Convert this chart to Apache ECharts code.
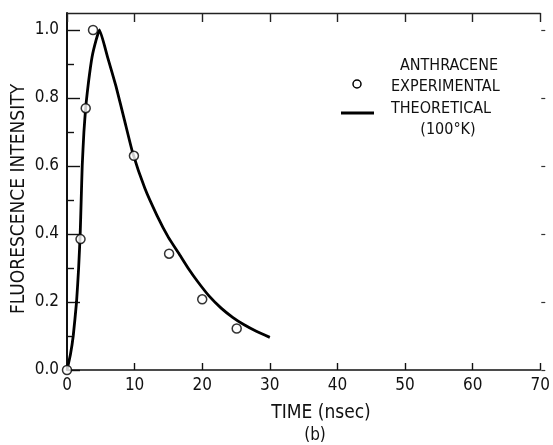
<!DOCTYPE html>
<html><head><meta charset="utf-8">
<script src="https://cdn.jsdelivr.net/npm/echarts@6/dist/echarts.min.js"></script>
<style>html,body{margin:0;padding:0;background:#fff}#c{width:553px;height:445px}</style>
</head><body><div id="c"></div>
<script>
// Experimental points (time ns, intensity)
const expTime = [0, 2.0, 2.77, 3.85, 9.9, 15.1, 20.0, 25.1];
const expIntensity = [0, 0.385, 0.77, 1.0, 0.63, 0.342, 0.208, 0.122];
// Theoretical curve (100 K)
const theoTime = [0, 0.5, 0.92, 1.41, 1.72, 1.95, 2.1, 2.25, 2.5, 2.8, 3.2, 3.7, 4.3, 4.8, 6.0, 7.24, 8.5, 9.7, 11.5, 13.3, 15.0, 16.5, 18.0, 19.4, 21.0, 22.8, 24.5, 26.2, 28.0, 30.0];
const theoIntensity = [0, 0.045, 0.1, 0.2, 0.3, 0.4, 0.5, 0.6, 0.7, 0.78, 0.85, 0.92, 0.97, 1.0, 0.92, 0.835, 0.735, 0.64, 0.535, 0.455, 0.39, 0.344, 0.297, 0.258, 0.218, 0.182, 0.155, 0.133, 0.114, 0.096];
const yMajor = [0, 0.2, 0.4, 0.6, 0.8, 1.0];
const yMinor = [0.1, 0.3, 0.5, 0.7, 0.9];

const FONT = "'Liberation Sans Narrow','DejaVu Sans Condensed','DejaVu Sans',sans-serif";
const chart = echarts.init(document.getElementById('c'), null, {renderer: 'canvas'});
const zip = (a, b) => a.map((v, i) => [v, b[i]]);
chart.setOption({
  animation: false,
  backgroundColor: '#fff',
  grid: {left: 67, right: 6, top: 13, bottom: 75},
  xAxis: [
    {type: 'value', min: 0, max: 70, interval: 10, position: 'bottom',
     axisLine: {onZero: false, lineStyle: {color: '#111', width: 1.6}},
     axisTick: {inside: true, length: 7, lineStyle: {color: '#111', width: 1.4}},
     axisLabel: {color: '#111', fontFamily: FONT, fontSize: 17, margin: 7},
     splitLine: {show: false}},
    {type: 'value', min: 0, max: 70, interval: 10, position: 'top',
     axisLine: {onZero: false, lineStyle: {color: '#222', width: 1.4}},
     axisTick: {inside: true, length: 9, lineStyle: {color: '#222', width: 1.4}},
     axisLabel: {show: false}, splitLine: {show: false}}
  ],
  yAxis: [
    {type: 'value', min: 0, max: 1.05, position: 'left',
     axisLine: {onZero: false, lineStyle: {color: '#111', width: 2}},
     axisTick: {inside: true, length: 13, customValues: yMajor, lineStyle: {color: '#111', width: 1.4}},
     axisLabel: {color: '#111', fontFamily: FONT, fontSize: 17, margin: 8, customValues: yMajor,
                 formatter: v => v.toFixed(1)},
     splitLine: {show: false}},
    {type: 'value', min: 0, max: 1.05, position: 'left',
     axisLine: {show: false, onZero: false},
     axisTick: {inside: true, length: 7, customValues: yMinor, lineStyle: {color: '#111', width: 1.4}},
     axisLabel: {show: false}, splitLine: {show: false}},
    {type: 'value', min: 0, max: 1.05, position: 'right', offset: 5,
     axisLine: {show: false, onZero: false},
     axisTick: {inside: true, length: 4, customValues: yMajor, lineStyle: {color: '#333', width: 1.2}},
     axisLabel: {show: false}, splitLine: {show: false}}
  ],
  series: [
    {name: 'THEORETICAL', type: 'line', data: zip(theoTime, theoIntensity), smooth: 0.15,
     showSymbol: false, symbol: 'none', lineStyle: {color: '#000', width: 2.8}, z: 2},
    {name: 'EXPERIMENTAL', type: 'scatter', data: zip(expTime, expIntensity),
     symbol: 'circle', symbolSize: 9,
     itemStyle: {color: '#fff', borderColor: '#000', borderWidth: 1.5}, z: 3}
  ],
  graphic: [
    {type: 'text', x: 19, y: 199, rotation: Math.PI / 2,
     style: {text: 'FLUORESCENCE INTENSITY', fill: '#111', font: '19px ' + FONT, textAlign: 'center', textVerticalAlign: 'middle'}},
    {type: 'text', x: 321, y: 413,
     style: {text: 'TIME (nsec)', fill: '#111', font: '19px ' + FONT, textAlign: 'center', textVerticalAlign: 'middle'}},
    {type: 'text', x: 315, y: 436,
     style: {text: '(b)', fill: '#111', font: '17px ' + FONT, textAlign: 'center', textVerticalAlign: 'middle'}},
    {type: 'text', x: 449, y: 66,
     style: {text: 'ANTHRACENE', fill: '#111', font: '16px ' + FONT, textAlign: 'center', textVerticalAlign: 'middle'}},
    {type: 'circle', shape: {cx: 357, cy: 84, r: 4},
     style: {fill: '#fff', stroke: '#000', lineWidth: 1.5}},
    {type: 'text', x: 391, y: 87,
     style: {text: 'EXPERIMENTAL', fill: '#111', font: '16px ' + FONT, textAlign: 'left', textVerticalAlign: 'middle'}},
    {type: 'line', shape: {x1: 341, y1: 113, x2: 374, y2: 113},
     style: {stroke: '#000', lineWidth: 2.8}},
    {type: 'text', x: 391, y: 109,
     style: {text: 'THEORETICAL', fill: '#111', font: '16px ' + FONT, textAlign: 'left', textVerticalAlign: 'middle'}},
    {type: 'text', x: 448, y: 130,
     style: {text: '(100°K)', fill: '#111', font: '16px ' + FONT, textAlign: 'center', textVerticalAlign: 'middle'}}
  ]
});
</script></body></html>
